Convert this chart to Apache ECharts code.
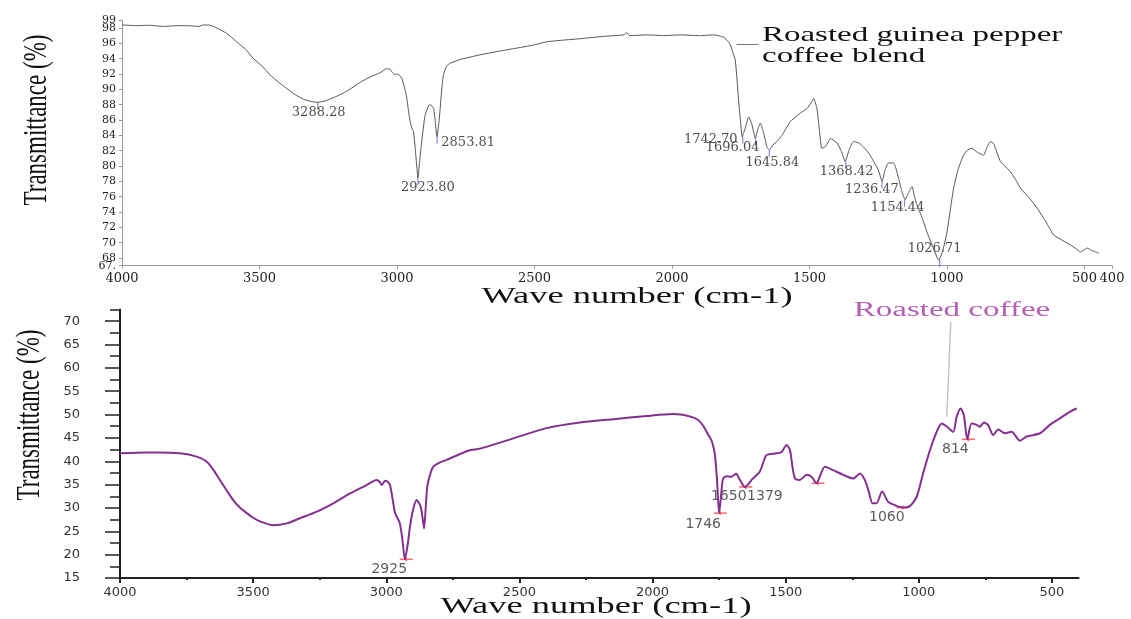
<!DOCTYPE html>
<html>
<head>
<meta charset="utf-8">
<script src="https://cdn.jsdelivr.net/npm/echarts@6/dist/echarts.min.js"></script>
<style>
html,body{margin:0;padding:0;background:#fff;}
#chart{width:1131px;height:619px;}
</style>
</head>
<body>
<div id="chart"></div>
<script>
// ---------- DATA ----------
// Top spectrum: Roasted guinea pepper coffee blend
const topWave = [4000,3950,3900,3850,3800,3765,3720,3705,3680,3655,3620,3583,3550,3522,3490,3462,3430,3401,3370,3340,3310,3290,3260,3219,3190,3159,3130,3098,3060,3037,3025,3015,3008,3001,2990,2982,2970,2964,2957,2952,2945,2940,2933,2927,2924,2918,2910,2898,2885,2878,2867,2860,2855,2848,2843,2836,2831,2820,2807,2770,2734,2698,2625,2576,2500,2455,2400,2334,2250,2175,2164,2155,2091,2030,1970,1900,1849,1812,1795,1788,1770,1758,1750,1745,1735,1721,1710,1697,1688,1679,1668,1655,1646,1632,1618,1600,1570,1550,1533,1509,1495,1485,1473,1465,1455,1440,1424,1400,1385,1370,1355,1340,1320,1304,1285,1267,1250,1236,1225,1213,1194,1185,1176,1165,1152,1140,1127,1118,1109,1090,1073,1050,1030,1015,1000,985,976,960,940,925,909,890,867,855,842,830,824,806,790,770,750,733,700,672,640,612,580,551,530,515,500,490,475,460,448];
const topT    = [98.4,98.3,98.35,98.2,98.3,98.3,98.2,98.4,98.35,98.0,97.3,96.2,95.2,94.0,93.0,91.9,90.9,90.1,89.3,88.7,88.4,88.3,88.5,89.1,89.6,90.3,91.0,91.6,92.2,92.7,92.6,92.1,91.9,92.0,91.8,91.4,89.8,88.8,86.8,85.8,84.8,84.5,82.0,79.5,78.4,80.5,83.2,86.6,87.9,88.0,87.5,85.5,83.8,85.5,87.5,90.5,91.9,93.0,93.4,93.9,94.2,94.5,95.0,95.3,95.8,96.2,96.4,96.6,96.9,97.1,97.4,97.0,97.1,97.0,97.1,97.0,97.1,96.8,96.2,95.8,93.8,88.6,85.5,83.8,84.8,86.4,85.5,83.6,84.8,85.6,84.5,82.5,82.1,82.8,83.2,84.0,85.8,86.4,86.9,87.5,88.2,88.8,87.5,85.0,82.3,82.6,83.6,83.0,82.0,80.6,82.2,83.2,83.0,82.5,81.7,80.6,79.5,78.0,79.5,80.4,80.4,79.6,78.4,76.8,75.6,76.5,77.3,76.0,74.9,73.2,71.4,69.3,67.7,69.0,71.4,75.0,77.1,79.5,81.4,82.1,82.3,81.8,81.4,82.4,83.2,82.9,82.3,80.6,80.0,79.3,78.2,77.1,75.8,74.5,72.7,71.0,70.3,69.7,69.2,68.8,69.1,69.3,69.0,68.8,68.6];
const topPeakWave  = [3288.28,2923.80,2853.81,1742.70,1696.04,1645.84,1368.42,1236.47,1154.44,1026.71];
const topPeakT     = [88.3,78.4,83.8,83.8,83.6,82.1,80.6,78.0,75.6,67.7];
const topPeakLabel = ['3288.28','2923.80','2853.81','1742.70','1696.04','1645.84','1368.42','1236.47','1154.44','1026.71'];

// Bottom spectrum: Roasted coffee
const botWave = [4000,3900,3862,3775,3712,3674,3650,3625,3600,3575,3550,3524,3500,3474,3424,3374,3324,3261,3199,3136,3074,3036,3025,3017,3008,3001,2993,2986,2975,2967,2955,2949,2940,2930,2920,2911,2900,2886,2871,2864,2858,2852,2846,2835,2824,2800,2773,2690,2648,2523,2398,2273,2148,2022,1922,1860,1830,1810,1790,1778,1766,1758,1750,1742,1735,1722,1703,1686,1672,1653,1640,1628,1597,1572,1534,1515,1497,1484,1475,1465,1447,1421,1403,1384,1370,1353,1322,1284,1246,1221,1203,1188,1174,1159,1138,1115,1090,1065,1034,1008,984,958,933,914,896,871,858,843,831,818,802,783,771,756,740,721,702,677,652,620,595,545,508,470,433,407];
const botT    = [41.7,41.9,41.9,41.7,41.0,39.9,38.2,36.0,33.8,31.7,30.1,28.9,27.9,27.1,26.3,26.7,27.8,29.2,31.0,33.1,34.9,36.0,35.6,34.9,35.6,35.8,35.5,34.9,31.5,28.9,27.5,26.7,23.5,19.0,22.0,26.0,29.5,31.7,30.3,28.0,25.6,30.0,34.6,37.2,38.8,39.7,40.3,42.3,42.7,44.9,47.1,48.3,49.0,49.7,50.1,49.6,48.9,47.6,45.6,44.4,41.5,36.0,28.9,33.0,36.3,36.8,36.7,37.3,36.0,34.5,35.1,36.0,37.8,41.3,41.7,42.0,43.5,42.4,39.0,36.3,36.0,37.1,36.7,35.3,37.0,38.8,38.1,37.1,36.3,37.4,36.0,33.5,31.0,31.0,33.5,31.3,30.6,30.1,30.4,32.4,37.4,42.4,46.3,48.1,47.5,46.3,49.5,51.3,49.9,44.7,48.1,47.8,47.4,48.3,47.8,45.6,46.8,46.0,46.3,44.4,45.3,46.0,47.8,49.2,50.6,51.3];
const botPeakWave  = [2925,1746,1650,1379,1060,814];
const botPeakT     = [19.0,28.9,34.5,35.3,30.1,44.7];
const botPeakLabel = ['2925','1746','1650','1379','1060','814'];

// Tick labels
const topXTicks = [4000,3500,3000,2500,2000,1500,1000,500,400];
const topYTicks = [68,70,72,74,76,78,80,82,84,86,88,90,92,94,96,98];
const topYEndTicks = [67,99];
const topYEndLabels = ['67.','99'];
const botXTicks = [4000,3500,3000,2500,2000,1500,1000,500];
const botXMinor = [3750,3250,2750,2250,1750,1250,750];
const botYTicks = [15,20,25,30,35,40,45,50,55,60,65,70];
const botYMinor = [17.5,22.5,27.5,32.5,37.5,42.5,47.5,52.5,57.5,62.5,67.5,72.5];

// ---------- STYLE (label nudges in px, not data) ----------
const topLabelNudge = [[1,10],[10,9],[31,6],[-32,3],[-23,9],[3,13],[1,10],[-10,8],[-7,8],[-5,-12]];
const botLabelNudge = [[-17,10],[-17,11],[-17,9],[-53,13],[-16,10],[-13,10]];

const zip = (a,b) => a.map((v,i)=>[v,b[i]]);
const plain = (v) => String(v);

const chart = echarts.init(document.getElementById('chart'), null, {renderer:'canvas'});

const topYLabelStyle = {fontFamily:'DejaVu Serif', fontSize:11, color:'#222', margin:6};

const option = {
  animation:false,
  backgroundColor:'#fff',
  grid:[
    {left:122, right:19, top:20.3, height:245.4},
    {left:120, right:52.4, top:309.5, height:268.5}
  ],
  xAxis:[
    {gridIndex:0, type:'value', position:'bottom', min:400, max:4000, inverse:true,
     axisLine:{show:true, lineStyle:{color:'#9a9a9a', width:1}},
     axisTick:{show:true, customValues:topXTicks, length:3, lineStyle:{color:'#9a9a9a'}},
     axisLabel:{customValues:topXTicks, formatter:plain, showMinLabel:true, showMaxLabel:true,
       fontFamily:'DejaVu Serif', fontSize:13, color:'#222', margin:6},
     splitLine:{show:false}},
    {gridIndex:1, type:'value', position:'bottom', min:400, max:4000, inverse:true,
     axisLine:{show:true, lineStyle:{color:'#222', width:2}},
     axisTick:{show:true, customValues:botXTicks, length:5, lineStyle:{color:'#222', width:2}},
     axisLabel:{customValues:botXTicks, formatter:plain, showMinLabel:true, showMaxLabel:true,
       fontFamily:'DejaVu Sans', fontSize:13, color:'#333', margin:8},
     splitLine:{show:false}},
    {gridIndex:1, type:'value', position:'bottom', min:400, max:4000, inverse:true,
     axisLine:{show:false},
     axisTick:{show:true, customValues:botXMinor, length:2, lineStyle:{color:'#222', width:2}},
     axisLabel:{show:false}, splitLine:{show:false}}
  ],
  yAxis:[
    {gridIndex:0, type:'value', position:'left', min:67, max:99,
     axisLine:{show:true, lineStyle:{color:'#9a9a9a', width:1}},
     axisTick:{show:true, customValues:topYTicks, length:3, lineStyle:{color:'#9a9a9a'}},
     axisLabel:Object.assign({customValues:topYTicks, formatter:plain}, topYLabelStyle),
     splitLine:{show:false}},
    {gridIndex:1, type:'value', position:'left', min:15, max:72.5,
     axisLine:{show:true, lineStyle:{color:'#222', width:2}},
     axisTick:{show:true, customValues:botYTicks, length:15, lineStyle:{color:'#222', width:1.5}},
     axisLabel:{customValues:botYTicks, formatter:plain, showMinLabel:true,
       fontFamily:'DejaVu Sans', fontSize:13, color:'#333', margin:40},
     splitLine:{show:false}},
    {gridIndex:1, type:'value', position:'left', min:15, max:72.5,
     axisLine:{show:false},
     axisTick:{show:true, customValues:botYMinor, length:10, lineStyle:{color:'#222', width:1.5}},
     axisLabel:{show:false}, splitLine:{show:false}},
    {gridIndex:0, type:'value', position:'left', min:67, max:99,
     axisLine:{show:false},
     axisTick:{show:true, customValues:topYEndTicks, length:3, lineStyle:{color:'#9a9a9a'}},
     axisLabel:Object.assign({customValues:topYEndTicks, showMinLabel:true, showMaxLabel:true,
       formatter:(v)=>{const i=topYEndTicks.indexOf(v); return i>=0?topYEndLabels[i]:'';}}, topYLabelStyle),
     splitLine:{show:false}}
  ],
  series:[
    {type:'line', xAxisIndex:0, yAxisIndex:0, data:zip(topWave,topT), symbol:'none', smooth:0.15,
     lineStyle:{color:'#555', width:1}, silent:true,
     markLine:{silent:true, symbol:['none','none'], label:{show:false}, lineStyle:{color:'#777', width:1, type:'solid'},
       data:[[{coord:[1765,95.9]},{coord:[1686,95.9]}]]}},
    {type:'scatter', xAxisIndex:0, yAxisIndex:0, data:zip(topPeakWave,topPeakT), symbol:'rect',
     symbolSize:[1.2,7], symbolOffset:[0,'50%'], itemStyle:{color:'#6d6dd6'}, silent:true},
    {type:'scatter', xAxisIndex:0, yAxisIndex:0, symbolSize:1, itemStyle:{color:'rgba(0,0,0,0)'}, silent:true,
     data: topPeakWave.map((w,i)=>({value:[w,topPeakT[i]],
       label:{show:true, position:'inside', offset:topLabelNudge[i], formatter:topPeakLabel[i],
              fontFamily:'DejaVu Serif', fontSize:13, color:'#222'}}))},
    {type:'line', xAxisIndex:1, yAxisIndex:1, data:zip(botWave,botT), symbol:'none', smooth:0.25,
     lineStyle:{color:'#852f90', width:2}, silent:true,
     markLine:{silent:true, symbol:['none','none'], label:{show:false}, lineStyle:{color:'#c4c4c4', width:1.5, type:'solid'},
       data:[[{coord:[880,69.8]},{coord:[895,49.5]}]]}},
    {type:'scatter', xAxisIndex:1, yAxisIndex:1, data:zip(botPeakWave,botPeakT), symbol:'rect',
     symbolSize:[13,1.5], itemStyle:{color:'#ff4040'}, silent:true},
    {type:'scatter', xAxisIndex:1, yAxisIndex:1, data:zip(botPeakWave,botPeakT), symbol:'rect',
     symbolSize:[1.5,4], itemStyle:{color:'#ff4040'}, silent:true},
    {type:'scatter', xAxisIndex:1, yAxisIndex:1, symbolSize:1, itemStyle:{color:'rgba(0,0,0,0)'}, silent:true,
     data: botPeakWave.map((w,i)=>({value:[w,botPeakT[i]],
       label:{show:true, position:'inside', offset:botLabelNudge[i], formatter:botPeakLabel[i],
              fontFamily:'DejaVu Sans', fontSize:14, color:'#333'}}))}
  ],
  graphic:[
    {type:'text', x:37, y:120, rotation:Math.PI/2, scaleY:1.5,
     style:{text:'Transmittance (%)', font:'23px "Liberation Serif"', fill:'#111', align:'center', verticalAlign:'middle'}},
    {type:'text', x:30, y:415, rotation:Math.PI/2, scaleY:1.5,
     style:{text:'Transmittance (%)', font:'23px "Liberation Serif"', fill:'#111', align:'center', verticalAlign:'middle'}},
    {type:'text', x:637, y:297, scaleX:1.52,
     style:{text:'Wave number (cm-1)', font:'24px "Liberation Serif"', fill:'#111', align:'center', verticalAlign:'middle'}},
    {type:'text', x:596, y:607, scaleX:1.52,
     style:{text:'Wave number (cm-1)', font:'24px "Liberation Serif"', fill:'#111', align:'center', verticalAlign:'middle'}},
    {type:'text', x:762, y:35, scaleX:1.57,
     style:{text:'Roasted guinea pepper', font:'21px "Liberation Serif"', fill:'#111', align:'left', verticalAlign:'middle'}},
    {type:'text', x:762, y:56, scaleX:1.57,
     style:{text:'coffee blend', font:'21px "Liberation Serif"', fill:'#111', align:'left', verticalAlign:'middle'}},
    {type:'text', x:952, y:311, scaleX:1.65,
     style:{text:'Roasted coffee', font:'20px "Liberation Serif"', fill:'#b35fb3', align:'center', verticalAlign:'middle'}}
  ]
};
chart.setOption(option);
</script>
</body>
</html>
